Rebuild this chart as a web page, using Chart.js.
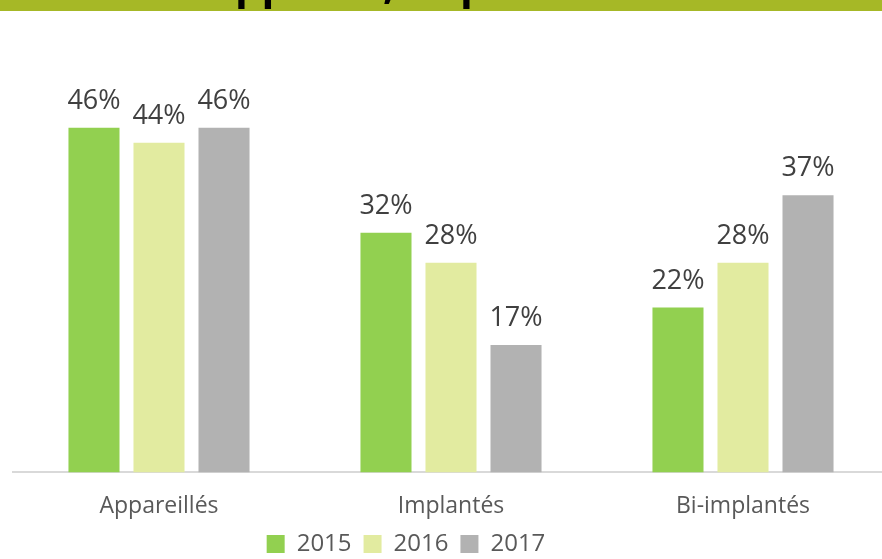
<!DOCTYPE html>
<html>
<head>
<meta charset="utf-8">
<script src="https://cdn.jsdelivr.net/npm/chart.js@4.4.0/dist/chart.umd.min.js"></script>
<style>
  html, body { margin: 0; padding: 0; overflow: hidden; background: #fff; }
  #wrap { position: absolute; left: 0; top: 0; width: 889px; height: 559px; }
</style>
</head>
<body>
<div id="wrap"><canvas id="chart"></canvas></div>
<script>
// Categories and series
const categories = ['Appareillés', 'Implantés', 'Bi-implantés'];
const years = ['2015', '2016', '2017'];
const values2015 = [46, 32, 22];
const values2016 = [44, 28, 28];
const values2017 = [46, 17, 37];
const barColors = ['#92D050', '#E2EBA0', '#B2B2B2'];
const titleText = 'Appareil, implant';

// Green banner at the top (the title is cut off, only the descenders show)
const bannerPlugin = {
  id: 'banner',
  beforeDraw(chart) {
    const ctx = chart.ctx;
    ctx.save();
    ctx.fillStyle = '#A6B826';
    ctx.fillRect(0, 0, chart.width, 11);
    ctx.beginPath();
    ctx.rect(0, 0, chart.width, 11);
    ctx.clip();
    ctx.fillStyle = '#000';
    ctx.font = 'bold 42px "Open Sans"';
    ctx.textBaseline = 'alphabetic';
    ctx.textAlign = 'left';
    ctx.fillText(titleText, 206, -1);
    ctx.restore();
  }
};

// Value labels above each bar
const valueLabels = {
  id: 'valueLabels',
  afterDatasetsDraw(chart) {
    const ctx = chart.ctx;
    ctx.save();
    ctx.font = '27px "Open Sans"';
    ctx.fillStyle = '#404040';
    ctx.textAlign = 'center';
    ctx.textBaseline = 'alphabetic';
    chart.data.datasets.forEach((ds, i) => {
      const meta = chart.getDatasetMeta(i);
      meta.data.forEach((bar, j) => {
        ctx.fillText(ds.data[j] + '%', bar.x, bar.y - 19);
      });
    });
    ctx.restore();
  }
};

// legend sits a bit left of centre in the original
const legendShift = {
  id: 'legendShift',
  afterLayout(chart) {
    if (chart.legend) {
      chart.legend.left -= 45;
      chart.legend.right -= 45;
    }
  }
};

const ctx = document.getElementById('chart').getContext('2d');
new Chart(ctx, {
  type: 'bar',
  data: {
    labels: categories,
    datasets: [
      { label: years[0], data: values2015, backgroundColor: barColors[0] },
      { label: years[1], data: values2016, backgroundColor: barColors[1] },
      { label: years[2], data: values2017, backgroundColor: barColors[2] }
    ]
  },
  options: {
    responsive: true,
    maintainAspectRatio: false,
    animation: false,
    categoryPercentage: 0.668,
    barPercentage: 0.785,
    layout: { padding: { left: 13, right: 0, top: 23, bottom: -7 } },
    plugins: {
      legend: {
        position: 'bottom',
        labels: {
          boxWidth: 18,
          boxHeight: 18,
          padding: 12,
          color: '#595959',
          font: { family: 'Open Sans', size: 24 }
        }
      },
      tooltip: { enabled: false }
    },
    scales: {
      y: { display: false, min: 0, max: 60 },
      x: {
        grid: { display: false, drawTicks: false },
        border: { display: true, color: '#D9D9D9', width: 2 },
        ticks: {
          color: '#595959',
          padding: 20,
          font: { family: 'Open Sans', size: 23 }
        },
        afterFit(scale) {
          scale.height -= 20;
        }
      }
    }
  },
  plugins: [bannerPlugin, valueLabels, legendShift]
});
</script>
</body>
</html>
